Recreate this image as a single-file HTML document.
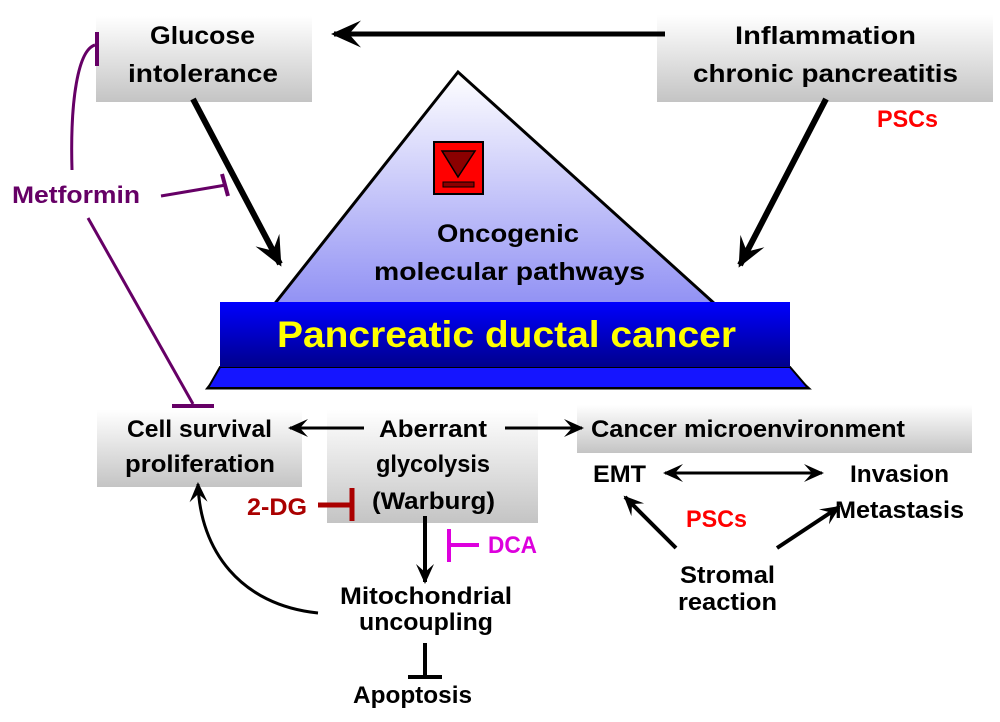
<!DOCTYPE html>
<html><head><meta charset="utf-8"><style>
body{margin:0;background:#fff}
text{font-family:"Liberation Sans",sans-serif;font-weight:bold}
</style></head><body>
<svg width="1000" height="717" viewBox="0 0 1000 717" xmlns="http://www.w3.org/2000/svg">
<defs>
<linearGradient id="gb" x1="0" y1="0" x2="0" y2="1"><stop offset="0" stop-color="#fff"/><stop offset="1" stop-color="#c4c4c4"/></linearGradient>
<linearGradient id="tri" x1="0" y1="0" x2="0" y2="1"><stop offset="0" stop-color="#fff"/><stop offset="1" stop-color="#6a6af0"/></linearGradient>
<linearGradient id="bar" x1="0" y1="0" x2="0" y2="1"><stop offset="0" stop-color="#0000ff"/><stop offset="1" stop-color="#00008c"/></linearGradient>
<marker id="big" viewBox="0 0 10 10" refX="9" refY="5" markerUnits="userSpaceOnUse" markerWidth="30" markerHeight="30" orient="auto-start-reverse"><path d="M0,0.5 L10,5 L0,9.5 L4,5 z" fill="#000"/></marker>
<marker id="ah" viewBox="0 0 10 10" refX="9" refY="5" markerUnits="userSpaceOnUse" markerWidth="20" markerHeight="20" orient="auto-start-reverse"><path d="M0,0.5 L10,5 L0,9.5 L4,5 z" fill="#000"/></marker>
</defs>
<!-- top boxes -->
<rect x="96" y="16" width="216" height="86" fill="url(#gb)"/>
<text x="150" y="44" font-size="25" textLength="105" lengthAdjust="spacingAndGlyphs">Glucose</text>
<text x="128" y="82" font-size="25" textLength="150" lengthAdjust="spacingAndGlyphs">intolerance</text>
<rect x="657" y="15" width="336" height="87" fill="url(#gb)"/>
<text x="735" y="44" font-size="25" textLength="181" lengthAdjust="spacingAndGlyphs">Inflammation</text>
<text x="693" y="82" font-size="25" textLength="265" lengthAdjust="spacingAndGlyphs">chronic pancreatitis</text>
<text x="877" y="127" font-size="24" fill="#ff0000" textLength="61" lengthAdjust="spacingAndGlyphs">PSCs</text>
<line x1="665" y1="34" x2="334" y2="34" stroke="#000" stroke-width="5" marker-end="url(#big)"/>
<!-- triangle -->
<polygon points="458,72 208,388 808,388" fill="url(#tri)" stroke="#000" stroke-width="3"/>
<polygon points="220,367 790,367 808,388 208,388" fill="#1515ff" stroke="#000" stroke-width="2"/>
<rect x="220" y="302" width="570" height="65" fill="url(#bar)"/>
<text x="277" y="347" font-size="37" fill="#ffff00" textLength="459" lengthAdjust="spacingAndGlyphs">Pancreatic ductal cancer</text>
<rect x="434" y="142" width="49" height="52" fill="#ff0000" stroke="#000" stroke-width="2"/>
<polygon points="442,151 475,151 458,177" fill="#8b0000" stroke="#000" stroke-width="1.5"/>
<rect x="443" y="182" width="31" height="5" fill="#8b0000" stroke="#000" stroke-width="1"/>
<text x="437" y="242" font-size="25" textLength="142" lengthAdjust="spacingAndGlyphs">Oncogenic</text>
<text x="374" y="280" font-size="25" textLength="271" lengthAdjust="spacingAndGlyphs">molecular pathways</text>
<!-- arrows to triangle -->
<line x1="193" y1="99" x2="280" y2="264" stroke="#000" stroke-width="6" marker-end="url(#big)"/>
<line x1="826" y1="99" x2="740" y2="265" stroke="#000" stroke-width="6" marker-end="url(#big)"/>
<!-- metformin -->
<text x="12" y="203" font-size="24" fill="#660066" textLength="128" lengthAdjust="spacingAndGlyphs">Metformin</text>
<path d="M72,170 C70,100 78,50 95,45" fill="none" stroke="#660066" stroke-width="3"/>
<line x1="97" y1="32" x2="97" y2="66" stroke="#660066" stroke-width="4"/>
<line x1="161" y1="196" x2="226" y2="185" stroke="#660066" stroke-width="3"/>
<line x1="222" y1="174" x2="228" y2="196" stroke="#660066" stroke-width="4"/>
<line x1="88" y1="218" x2="193" y2="404" stroke="#660066" stroke-width="3"/>
<line x1="172" y1="406" x2="214" y2="406" stroke="#660066" stroke-width="4"/>
<!-- bottom boxes -->
<rect x="97" y="410" width="205" height="77" fill="url(#gb)"/>
<text x="127" y="437" font-size="24" textLength="145" lengthAdjust="spacingAndGlyphs">Cell survival</text>
<text x="125" y="472" font-size="24" textLength="150" lengthAdjust="spacingAndGlyphs">proliferation</text>
<rect x="327" y="410" width="211" height="113" fill="url(#gb)"/>
<text x="379" y="437" font-size="24" textLength="108" lengthAdjust="spacingAndGlyphs">Aberrant</text>
<text x="376" y="472" font-size="24" textLength="114" lengthAdjust="spacingAndGlyphs">glycolysis</text>
<text x="372" y="509" font-size="24" textLength="123" lengthAdjust="spacingAndGlyphs">(Warburg)</text>
<rect x="577" y="405" width="395" height="48" fill="url(#gb)"/>
<text x="591" y="437" font-size="24" textLength="314" lengthAdjust="spacingAndGlyphs">Cancer microenvironment</text>
<line x1="364" y1="428" x2="290" y2="428" stroke="#000" stroke-width="3" marker-end="url(#ah)"/>
<line x1="505" y1="428" x2="582" y2="428" stroke="#000" stroke-width="3" marker-end="url(#ah)"/>
<!-- right cluster -->
<text x="593" y="482" font-size="24" textLength="53" lengthAdjust="spacingAndGlyphs">EMT</text>
<line x1="665" y1="473" x2="822" y2="473" stroke="#000" stroke-width="3" marker-start="url(#ah)" marker-end="url(#ah)"/>
<text x="850" y="482" font-size="24" textLength="99" lengthAdjust="spacingAndGlyphs">Invasion</text>
<text x="835" y="518" font-size="24" textLength="129" lengthAdjust="spacingAndGlyphs">Metastasis</text>
<text x="686" y="527" font-size="24" fill="#ff0000" textLength="61" lengthAdjust="spacingAndGlyphs">PSCs</text>
<line x1="676" y1="548" x2="625" y2="497" stroke="#000" stroke-width="4" marker-end="url(#ah)"/>
<line x1="777" y1="548" x2="839" y2="507" stroke="#000" stroke-width="4" marker-end="url(#ah)"/>
<text x="680" y="583" font-size="24" textLength="95" lengthAdjust="spacingAndGlyphs">Stromal</text>
<text x="678" y="610" font-size="24" textLength="99" lengthAdjust="spacingAndGlyphs">reaction</text>
<!-- 2-DG, DCA -->
<text x="247" y="515" font-size="24" fill="#aa0000" textLength="60" lengthAdjust="spacingAndGlyphs">2-DG</text>
<line x1="318" y1="505" x2="352" y2="505" stroke="#aa0000" stroke-width="5"/>
<line x1="352" y1="488" x2="352" y2="521" stroke="#aa0000" stroke-width="5"/>
<line x1="425" y1="516" x2="425" y2="582" stroke="#000" stroke-width="4" marker-end="url(#ah)"/>
<line x1="449" y1="529" x2="449" y2="562" stroke="#dd00dd" stroke-width="4"/>
<line x1="449" y1="545" x2="479" y2="545" stroke="#dd00dd" stroke-width="4"/>
<text x="488" y="553" font-size="24" fill="#dd00dd" textLength="49" lengthAdjust="spacingAndGlyphs">DCA</text>
<text x="340" y="604" font-size="24" textLength="172" lengthAdjust="spacingAndGlyphs">Mitochondrial</text>
<text x="359" y="630" font-size="24" textLength="134" lengthAdjust="spacingAndGlyphs">uncoupling</text>
<line x1="425" y1="643" x2="425" y2="677" stroke="#000" stroke-width="4"/>
<line x1="408" y1="677" x2="442" y2="677" stroke="#000" stroke-width="4"/>
<text x="353" y="703" font-size="24" textLength="119" lengthAdjust="spacingAndGlyphs">Apoptosis</text>
<path d="M318,613 C240,605 200,550 198,484" fill="none" stroke="#000" stroke-width="3" marker-end="url(#ah)"/>
</svg>
</body></html>
